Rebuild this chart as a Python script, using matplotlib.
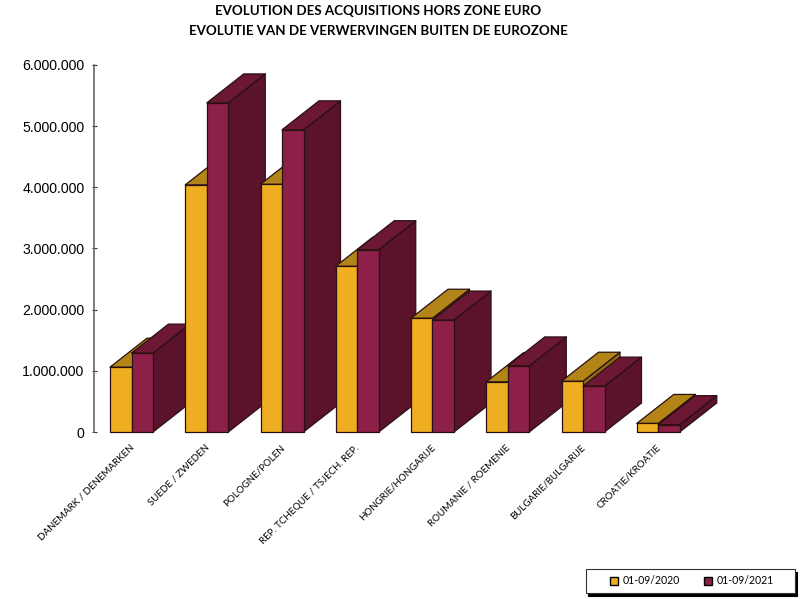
import matplotlib
matplotlib.use('Agg')
import matplotlib.pyplot as plt
from matplotlib.patches import Polygon, Patch, Rectangle
from matplotlib.ticker import FuncFormatter

W, H = 808, 599

categories = ['DANEMARK / DENEMARKEN', 'SUEDE / ZWEDEN', 'POLOGNE/POLEN',
              'REP. TCHEQUE / TSJECH. REP.', 'HONGRIE/HONGARIJE',
              'ROUMANIE / ROEMENIE', 'BULGARIE/BULGARIJE', 'CROATIE/KROATIE']
values_2020 = [1060000, 4040000, 4050000, 2710000, 1860000, 820000, 830000, 140000]
values_2021 = [1290000, 5380000, 4940000, 2980000, 1830000, 1080000, 750000, 120000]
series_names = ['01-09/2020', '01-09/2021']
yticks = [0, 1000000, 2000000, 3000000, 4000000, 5000000, 6000000]

# front, top, side
orange = ('#EFAE22', '#B38518', '#8F6A13')
maroon = ('#8C2049', '#6C1734', '#5A132B')
edge = '#2A1010'

fig = plt.figure(figsize=(W / 100, H / 100), dpi=100)
ax = fig.add_axes([94 / W, 1 - 432 / H, (696 - 94) / W, (432 - 65) / H])
ax.set_xlim(0, len(categories))
ax.set_ylim(0, 6000000)

# depth of the fake 3d, in data units
dx = 37 / 75.25
dy = 29 / 367 * 6000000
bar_w = 21.5 / 75.25
gap = 16 / 75.25


def bar3d(x, w, v, cols):
    side = [(x + w, 0), (x + w + dx, dy), (x + w + dx, v + dy), (x + w, v)]
    top = [(x, v), (x + w, v), (x + w + dx, v + dy), (x + dx, v + dy)]
    front = [(x, 0), (x + w, 0), (x + w, v), (x, v)]
    for pts, c in ((side, cols[2]), (top, cols[1]), (front, cols[0])):
        ax.add_patch(Polygon(pts, closed=True, facecolor=c, edgecolor=edge,
                             linewidth=0.9, clip_on=False, joinstyle='round'))


for i in range(len(categories)):
    bar3d(i + gap, bar_w, values_2020[i], orange)
    bar3d(i + gap + bar_w, bar_w, values_2021[i], maroon)

for s in ('top', 'right', 'bottom'):
    ax.spines[s].set_visible(False)
ax.spines['left'].set_color('#666666')
ax.spines['left'].set_linewidth(1.2)

ax.set_yticks(yticks)
ax.yaxis.set_major_formatter(FuncFormatter(lambda v, p: f'{int(v):,}'.replace(',', '.')))
ax.tick_params(axis='y', direction='inout', length=3.6, width=0.8, color='#333333',
               labelsize=10.2, labelfontfamily='Liberation Sans', pad=5)

ax.set_xticks([i + 0.47 for i in range(len(categories))])
ax.set_xticklabels(categories, rotation=45, ha='right', va='top',
                   rotation_mode='anchor', family='Lato', fontsize=7.0)
ax.tick_params(axis='x', length=0, pad=8)

fig.text(378 / W, 1 - 11 / H, 'EVOLUTION DES ACQUISITIONS HORS ZONE EURO',
         ha='center', va='center', family='Lato', fontweight='bold', fontsize=9.6)
fig.text(378 / W, 1 - 31 / H, 'EVOLUTIE VAN DE VERWERVINGEN BUITEN DE EUROZONE',
         ha='center', va='center', family='Lato', fontweight='bold', fontsize=9.6)

# legend box with its hard shadow
fig.add_artist(Rectangle((588 / W, 1 - 596 / H), 209 / W, 24 / H, transform=fig.transFigure,
                         facecolor='black', edgecolor='black', linewidth=0.8))
fig.add_artist(Rectangle((585.5 / W, 1 - 593 / H), 209 / W, 24 / H, transform=fig.transFigure,
                         facecolor='white', edgecolor='#333333', linewidth=0.8))
handles = [Patch(facecolor=orange[0], edgecolor='black', label=series_names[0]),
           Patch(facecolor=maroon[0], edgecolor='black', label=series_names[1])]
fig.legend(handles=handles, ncol=2, loc='center', bbox_to_anchor=(692 / W, 1 - 581 / H),
           frameon=False, prop={'family': 'Lato', 'size': 7.6}, handlelength=0.75,
           handleheight=0.75, handletextpad=0.4, columnspacing=2.3, borderpad=0)

fig.savefig('out.png', dpi=100)
